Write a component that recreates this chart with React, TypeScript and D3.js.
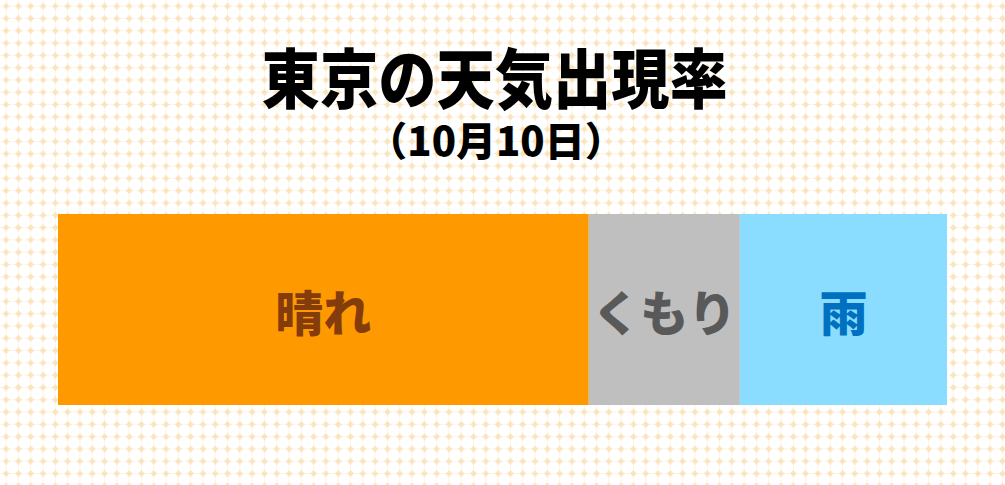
import React from 'react';
import * as d3 from 'd3';

const WIDTH = 1005;
const HEIGHT = 485;

const TITLE = '東京の天気出現率';
const SUBTITLE = '（10月10日）';

const categories = ['晴れ', 'くもり', '雨'];
const shares = [59.7, 17.0, 23.3];
const fillColors = ['#FF9900', '#BFBFBF', '#8ADDFF'];
const labelColors = ['#843C0C', '#595959', '#0070C0'];

const FONT = '"Noto Sans CJK JP", "Noto Sans", sans-serif';

const App: React.FC = () => {
  const margin = { left: 58, right: WIDTH - 947, top: 214, bottom: HEIGHT - 405 };

  const x = d3.scaleLinear()
    .domain([0, d3.sum(shares)])
    .range([margin.left, WIDTH - margin.right]);

  const ends = Array.from(d3.cumsum(shares));
  const segments = categories.map((name, i) => ({
    name,
    x0: x(i === 0 ? 0 : ends[i - 1]),
    x1: x(ends[i]),
    fill: fillColors[i],
    color: labelColors[i],
  }));

  const barTop = margin.top;
  const barBottom = HEIGHT - margin.bottom;
  const barMid = (barTop + barBottom) / 2;

  return (
    <div style={{ position: 'absolute', left: 0, top: 0, width: WIDTH, height: HEIGHT }}>
      <svg width={WIDTH} height={HEIGHT} viewBox={`0 0 ${WIDTH} ${HEIGHT}`} style={{ display: 'block' }}>
        <defs>
          <pattern id="bg-dots" width={12.3} height={12.3} patternUnits="userSpaceOnUse">
            <rect width={12.3} height={12.3} fill="#ffffff" />
            <line x1={0} y1={6.15} x2={12.3} y2={6.15} stroke="#fdf4e4" strokeWidth={0.8} />
            <line x1={6.15} y1={0} x2={6.15} y2={12.3} stroke="#fdf4e4" strokeWidth={0.8} />
            <path d="M6.15,1.8 Q7,5.3 10.5,6.15 Q7,7 6.15,10.5 Q5.3,7 1.8,6.15 Q5.3,5.3 6.15,1.8 Z" fill="#fbe4bb" />
            <circle cx={6.15} cy={6.15} r={2.2} fill="#fbe4bb" />
          </pattern>
        </defs>

        <rect x={0} y={0} width={WIDTH} height={HEIGHT} fill="url(#bg-dots)" />

        <g transform="translate(495,75) scale(1,1.12)">
          <text
            x={0}
            y={0}
            textAnchor="middle"
            dominantBaseline="central"
            fontFamily={FONT}
            fontWeight={900}
            fontSize={58}
            letterSpacing={0.3}
            fill="#000000"
          >
            {TITLE}
          </text>
        </g>
        <text
          x={496}
          y={139}
          textAnchor="middle"
          dominantBaseline="central"
          fontFamily={FONT}
          fontWeight={900}
          fontSize={40}
          fill="#000000"
        >
          {SUBTITLE}
        </text>

        {segments.map((s) => (
          <g key={s.name}>
            <rect x={s.x0} y={barTop} width={s.x1 - s.x0} height={barBottom - barTop} fill={s.fill} />
            <text
              x={(s.x0 + s.x1) / 2}
              y={barMid}
              textAnchor="middle"
              dominantBaseline="central"
              fontFamily={FONT}
              fontWeight={900}
              fontSize={48}
              fill={s.color}
            >
              {s.name}
            </text>
          </g>
        ))}
      </svg>
    </div>
  );
};

export default App;
